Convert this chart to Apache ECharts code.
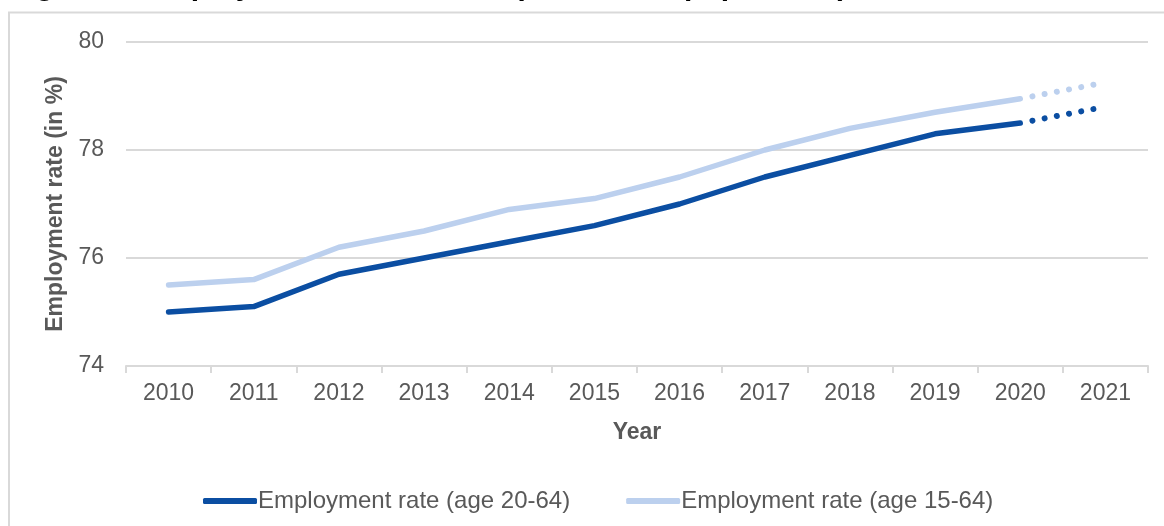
<!DOCTYPE html>
<html>
<head>
<meta charset="utf-8">
<script src="https://cdn.jsdelivr.net/npm/echarts@6/dist/echarts.min.js"></script>
<style>
  html, body { margin: 0; padding: 0; background: #ffffff; }
  #chart { width: 1164px; height: 526px; }
</style>
</head>
<body>
<div id="chart"></div>
<script>
// Employment rate by age group, 2010-2021 (2021 is an estimate, drawn dotted)
const years = ['2010', '2011', '2012', '2013', '2014', '2015', '2016', '2017', '2018', '2019', '2020', '2021'];
const rate2064 = [75.0, 75.1, 75.7, 76.0, 76.3, 76.6, 77.0, 77.5, 77.9, 78.3, 78.5, 78.8];
const rate1564 = [75.5, 75.6, 76.2, 76.5, 76.9, 77.1, 77.5, 78.0, 78.4, 78.7, 78.95, 79.25];
const yTicks = [74, 76, 78, 80];
const seriesNames = ['Employment rate (age 20-64)', 'Employment rate (age 15-64)'];
const lastActualYear = '2020';

const DARK = '#0b4ea2';
const LIGHT = '#bcd0ee';
const TEXT = '#595959';
const GRID = '#d9d9d9';
const FONT = '"Liberation Sans", Arial, sans-serif';

const cut = years.indexOf(lastActualYear);
const actual = arr => arr.map((v, i) => (i <= cut ? v : null));
const estimate = arr => arr.map((v, i) => (i >= cut ? v : null));

function solid(name, data, color) {
  return {
    name, type: 'line', data,
    symbol: 'none', showSymbol: false, smooth: false,
    lineStyle: { color, width: 5.5, cap: 'round', join: 'round' },
    itemStyle: { color },
    z: 3
  };
}
function dotted(name, data, color) {
  return {
    name, type: 'line', data,
    symbol: 'none', showSymbol: false, smooth: false,
    lineStyle: { color, width: 6, cap: 'round', type: [0.01, 12.4], dashOffset: -12.4 },
    itemStyle: { color },
    z: 3
  };
}

const chart = echarts.init(document.getElementById('chart'), null, { renderer: 'canvas' });
chart.setOption({
  animation: false,
  backgroundColor: '#ffffff',
  textStyle: { fontFamily: FONT },
  graphic: [
    {
      type: 'rect',
      shape: { x: 9, y: 12.5, width: 1180, height: 540 },
      style: { fill: 'none', stroke: GRID, lineWidth: 2 },
      silent: true
    },
    {
      // figure caption sits above the frame; only its lowest strokes reach the canvas
      type: 'text',
      x: 9, y: -28,
      style: {
        text: 'Figure 1: Employment rate in EU28 (in % of the population)',
        font: 'bold 30px ' + FONT,
        fill: '#000000',
        verticalAlign: 'top'
      },
      silent: true
    }
  ],
  grid: { left: 126, right: 16, top: 42, bottom: 160, containLabel: false },
  legend: {
    data: seriesNames,
    left: 198, top: 484,
    icon: 'roundRect',
    itemWidth: 54, itemHeight: 6, itemGap: 56,
    textStyle: { color: TEXT, fontSize: 24, fontFamily: FONT, padding: [0, 0, 0, -4] }
  },
  xAxis: {
    type: 'category',
    data: years,
    boundaryGap: true,
    name: 'Year',
    nameLocation: 'middle',
    nameGap: 55,
    nameTextStyle: { color: TEXT, fontSize: 23, fontWeight: 'bold', fontFamily: FONT },
    axisLine: { lineStyle: { color: GRID, width: 2 } },
    axisTick: { show: true, length: 7, lineStyle: { color: GRID, width: 2 } },
    axisLabel: { color: TEXT, fontSize: 23, margin: 16, fontFamily: FONT }
  },
  yAxis: {
    type: 'value',
    min: yTicks[0], max: yTicks[yTicks.length - 1], interval: 2,
    name: 'Employment rate (in %)',
    nameLocation: 'middle',
    nameGap: 56,
    nameTextStyle: { color: TEXT, fontSize: 23, fontWeight: 'bold', fontFamily: FONT },
    axisLine: { show: false },
    axisTick: { show: false },
    axisLabel: { color: TEXT, fontSize: 23, margin: 22, fontFamily: FONT },
    splitLine: { lineStyle: { color: GRID, width: 2 } }
  },
  series: [
    solid(seriesNames[0], actual(rate2064), DARK),
    solid(seriesNames[1], actual(rate1564), LIGHT),
    dotted(seriesNames[0], estimate(rate2064), DARK),
    dotted(seriesNames[1], estimate(rate1564), LIGHT)
  ]
});
</script>
</body>
</html>
